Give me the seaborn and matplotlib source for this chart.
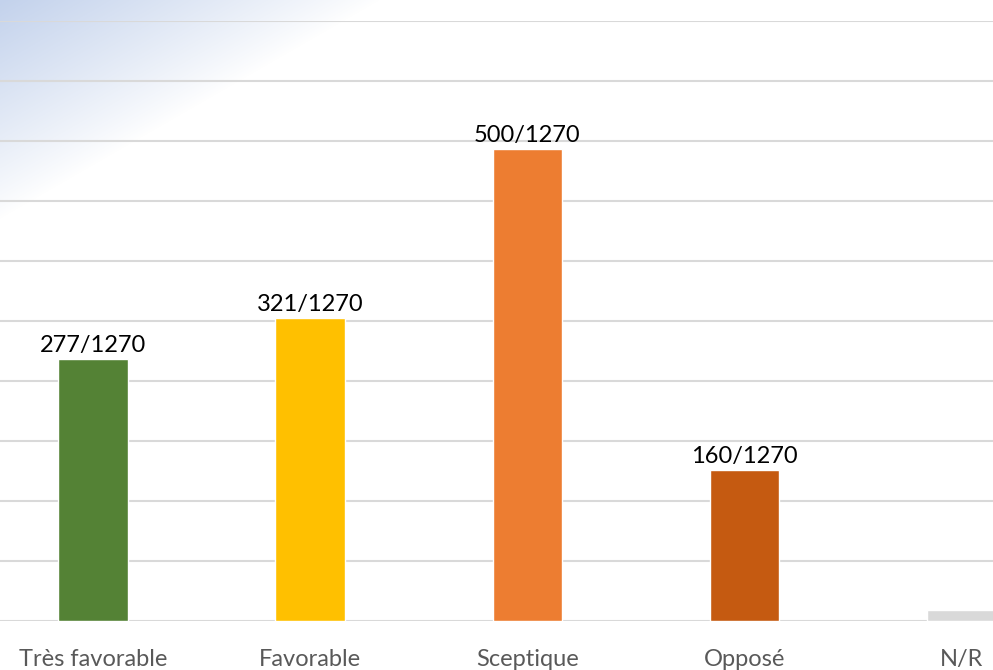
import numpy as np
import pandas as pd
import seaborn as sns
import matplotlib.pyplot as plt
from matplotlib.colors import to_rgb

# -----------------------------------------------------------------------------
# Data
# -----------------------------------------------------------------------------

categories = ["Très favorable", "Favorable", "Sceptique", "Opposé", "N/R"]
counts = [277, 321, 500, 160, 12]
total = 1270
bar_colors = ["#548235", "#FFC000", "#ED7D31", "#C55A11", "#D9D9D9"]
shown_labels = ["277/1270", "321/1270", "500/1270", "160/1270", ""]

df = pd.DataFrame({"category": categories, "count": counts})
df["pct"] = df["count"] / total * 100

# -----------------------------------------------------------------------------
# Figure
# -----------------------------------------------------------------------------

sns.set_theme(style="white")
plt.rcParams["font.family"] = ["Lato", "DejaVu Sans"]

W, H = 993, 670
fig = plt.figure(figsize=(W / 100, H / 100), dpi=100)

# soft blue gradient in the top-left corner (slide background)
bg = fig.add_axes([0, 0, 1, 1], zorder=-5)
yy, xx = np.mgrid[0:H, 0:W]
t = (190 * xx + 330 * yy) / 72000.0
a = np.clip(1 - t, 0, 1) ** 0.9
blue = np.array(to_rgb("#C3D2EC"))
img = np.ones((H, W, 3)) * (1 - a[..., None]) + blue * a[..., None]
bg.imshow(img, aspect="auto", extent=[0, W, H, 0])
bg.axis("off")

ax = fig.add_axes([0, 49 / H, 1, 600 / H])
ax.patch.set_alpha(0)

sns.barplot(data=df, x="category", y="pct", hue="category",
            palette=bar_colors, width=0.32, legend=False, saturation=1,
            ax=ax, zorder=3)

ax.set_xlim(-0.428, 4.143)
ax.set_ylim(0, 50)
ax.set_yticks(np.arange(0, 51, 5))
ax.yaxis.grid(True, color="#D9D9D9", linewidth=1.5, zorder=0)
ax.set_axisbelow(True)
ax.set_yticklabels([])
ax.tick_params(axis="y", length=0)
ax.tick_params(axis="x", length=0, pad=20, labelsize=17, labelcolor="#595959")
ax.set_xlabel("")
ax.set_ylabel("")
for s in ax.spines.values():
    s.set_visible(False)

for cont, lab in zip(ax.containers, shown_labels):
    ax.bar_label(cont, labels=[lab], padding=2, fontsize=17, color="black")

fig.savefig("out.png", dpi=100)
